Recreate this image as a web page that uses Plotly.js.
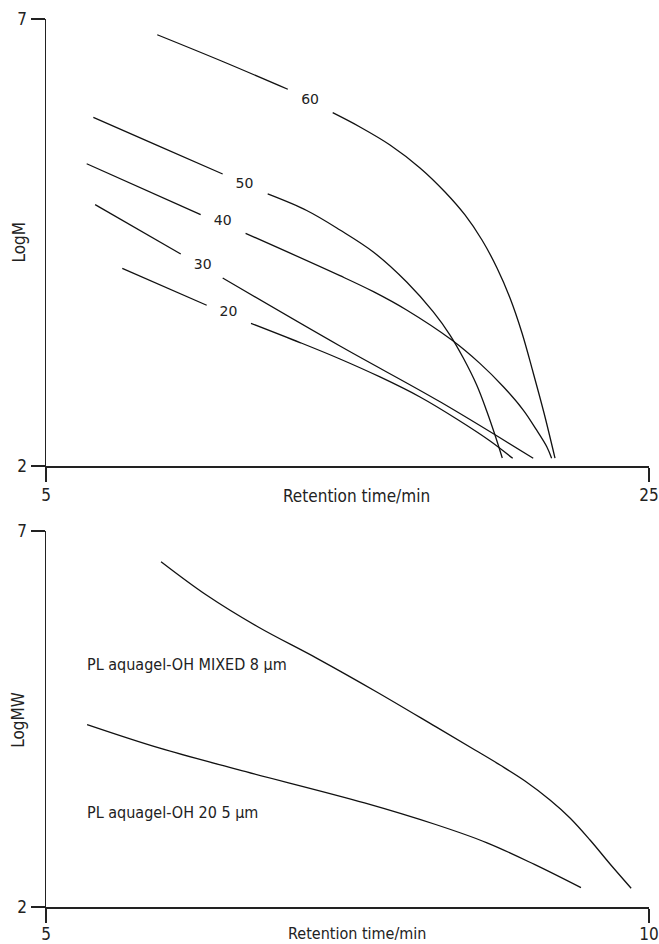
<!DOCTYPE html>
<html>
<head>
<meta charset="utf-8">
<script src="https://cdn.plot.ly/plotly-3.0.1.min.js"></script>
<style>
html,body{margin:0;padding:0;background:#fff;}
#chart{width:659px;height:944px;}
svg text{font-stretch:condensed;}
svg .textpoint text{font-stretch:normal;}
</style>
</head>
<body>
<div id="chart"></div>
<script>
// ---- Top panel: LogM vs retention time, curves labelled by %
const t60 = [8.69, 10.88, 13.02, null, 14.509, 15.415, 16.410, 17.405, 18.234, 18.897, 19.461, 19.959, 20.390, 20.788, 21.153, 21.518, 21.882];
const m60 = [6.824, 6.522, 6.214, null, 5.952, 5.792, 5.591, 5.334, 5.065, 4.808, 4.528, 4.215, 3.879, 3.488, 3.051, 2.593, 2.089];
const t50 = [6.57, 8.67, 10.86, null, 12.353, 13.647, 14.751, 15.856, 16.963, 17.846, 18.400, 18.841, 19.285, 19.617, 19.892, 20.134];
const m50 = [5.900, 5.59, 5.266, null, 5.043, 4.858, 4.640, 4.394, 4.058, 3.723, 3.465, 3.208, 2.906, 2.616, 2.347, 2.089];
const t40 = [6.35, 10.13, null, 11.62, 14.75, 15.86, 16.96, 18.46, 19.39, 20.17, 20.83, 21.27, 21.61, 21.77];
const m40 = [5.381, 4.811, null, 4.603, 4.129, 3.950, 3.745, 3.409, 3.148, 2.887, 2.626, 2.403, 2.216, 2.086];
const t30 = [6.63, 9.47, null, 10.86, 14.75, 18.07, 21.16];
const m30 = [4.923, 4.371, null, 4.103, 3.342, 2.718, 2.086];
const t20 = [7.53, 10.33, null, 11.80, 13.424, 14.751, 16.078, 17.405, 18.622, 19.73, 20.48];
const m20 = [4.211, 3.798, null, 3.596, 3.381, 3.197, 2.996, 2.772, 2.526, 2.280, 2.086];

const curveLabels = ['60', '50', '40', '30', '20'];
const labelT = [13.76, 11.58, 10.86, 10.20, 11.05];
const labelM = [6.083, 5.151, 4.737, 4.241, 3.715];

// ---- Bottom panel: LogMW vs retention time
const tMixed = [5.954, 6.330, 6.756, 7.247, 7.739, 8.231, 8.557, 8.765, 8.972, 9.179, 9.345, 9.511, 9.677, 9.852];
const mMixed = [6.592, 6.149, 5.727, 5.307, 4.863, 4.398, 4.088, 3.888, 3.676, 3.423, 3.184, 2.891, 2.572, 2.250];
const t20um = [5.341, 5.937, 6.592, 7.641, 8.231, 8.657, 9.050, 9.436];
const m20um = [4.425, 4.115, 3.827, 3.385, 3.097, 2.854, 2.566, 2.257];

const seriesNames = ['PL aquagel-OH MIXED 8 µm', 'PL aquagel-OH 20 5 µm'];
const seriesLabelT = [5.324, 5.324];
const seriesLabelM = [5.221, 3.261];

const xTitle = 'Retention time/min';
const yTitleTop = 'LogM';
const yTitleBottom = 'LogMW';
const topXTicks = [5, 25];
const bottomXTicks = [5, 10];
const yTicks = [2, 7];

const FONT = '"DejaVu Sans", sans-serif';
const lineStyle = {color: '#111', width: 1.3, shape: 'spline', smoothing: 1};

function curve(x, y, xa, ya) {
  return {x: x, y: y, xaxis: xa, yaxis: ya, mode: 'lines', line: lineStyle,
          connectgaps: false, hoverinfo: 'skip', showlegend: false, cliponaxis: false};
}

const traces = [
  curve(t60, m60, 'x', 'y'),
  curve(t50, m50, 'x', 'y'),
  curve(t40, m40, 'x', 'y'),
  curve(t30, m30, 'x', 'y'),
  curve(t20, m20, 'x', 'y'),
  {x: labelT, y: labelM, text: curveLabels, mode: 'text', xaxis: 'x', yaxis: 'y',
   textfont: {family: '"DejaVu Sans", sans-serif', size: 14, color: '#222'},
   textposition: 'middle center', hoverinfo: 'skip', showlegend: false},
  curve(tMixed, mMixed, 'x2', 'y2'),
  curve(t20um, m20um, 'x2', 'y2')
];

const axisCommon = {
  showgrid: false, zeroline: false, showline: true, linecolor: '#222', linewidth: 1.5,
  ticks: 'outside', ticklen: 14, tickwidth: 1.5, tickcolor: '#222',
  ticklabeloverflow: 'allow',
  tickfont: {family: FONT, size: 17, color: '#222'}, fixedrange: true
};

const annTitle = {showarrow: false, font: {family: FONT, size: 17, color: '#222'}};
const annBottom = {showarrow: false, font: {family: FONT, size: 16, color: '#222'}};

const layout = {
  width: 659, height: 944,
  margin: {l: 46, r: 10, t: 19, b: 37},
  paper_bgcolor: '#fff', plot_bgcolor: '#fff',
  font: {family: FONT, color: '#222'},
  showlegend: false,
  xaxis: Object.assign({}, axisCommon, {domain: [0, 1], range: [5, 25], tickvals: topXTicks, anchor: 'y', ticklabelstandoff: -1}),
  yaxis: Object.assign({}, axisCommon, {domain: [0.49662, 1], range: [2, 7], tickvals: yTicks, anchor: 'x'}),
  xaxis2: Object.assign({}, axisCommon, {domain: [0, 1], range: [5, 10], tickvals: bottomXTicks, anchor: 'y2', ticklabelstandoff: -3}),
  yaxis2: Object.assign({}, axisCommon, {domain: [0, 0.42342], range: [2, 7], tickvals: yTicks, anchor: 'x2'}),
  annotations: [
    Object.assign({}, annTitle, {text: xTitle, xref: 'paper', yref: 'paper', x: 0.515, y: 0.4628, xanchor: 'center', yanchor: 'middle'}),
    Object.assign({}, annTitle, {text: yTitleTop, xref: 'paper', yref: 'y', x: -0.0464, y: 4.5, xanchor: 'center', yanchor: 'middle', textangle: -90}),
    Object.assign({}, annBottom, {text: xTitle, xref: 'paper', yref: 'paper', x: 0.515, y: -0.0293, xanchor: 'center', yanchor: 'middle'}),
    Object.assign({}, annTitle, {text: yTitleBottom, xref: 'paper', yref: 'y2', x: -0.0464, y: 4.49, xanchor: 'center', yanchor: 'middle', textangle: -90}),
    Object.assign({}, annBottom, {text: seriesNames[0], xref: 'x2', yref: 'y2', x: seriesLabelT[0], y: seriesLabelM[0], xanchor: 'left', yanchor: 'middle'}),
    Object.assign({}, annBottom, {text: seriesNames[1], xref: 'x2', yref: 'y2', x: seriesLabelT[1], y: seriesLabelM[1], xanchor: 'left', yanchor: 'middle'})
  ]
};

Plotly.newPlot('chart', traces, layout, {staticPlot: true, displayModeBar: false});
</script>
</body>
</html>
